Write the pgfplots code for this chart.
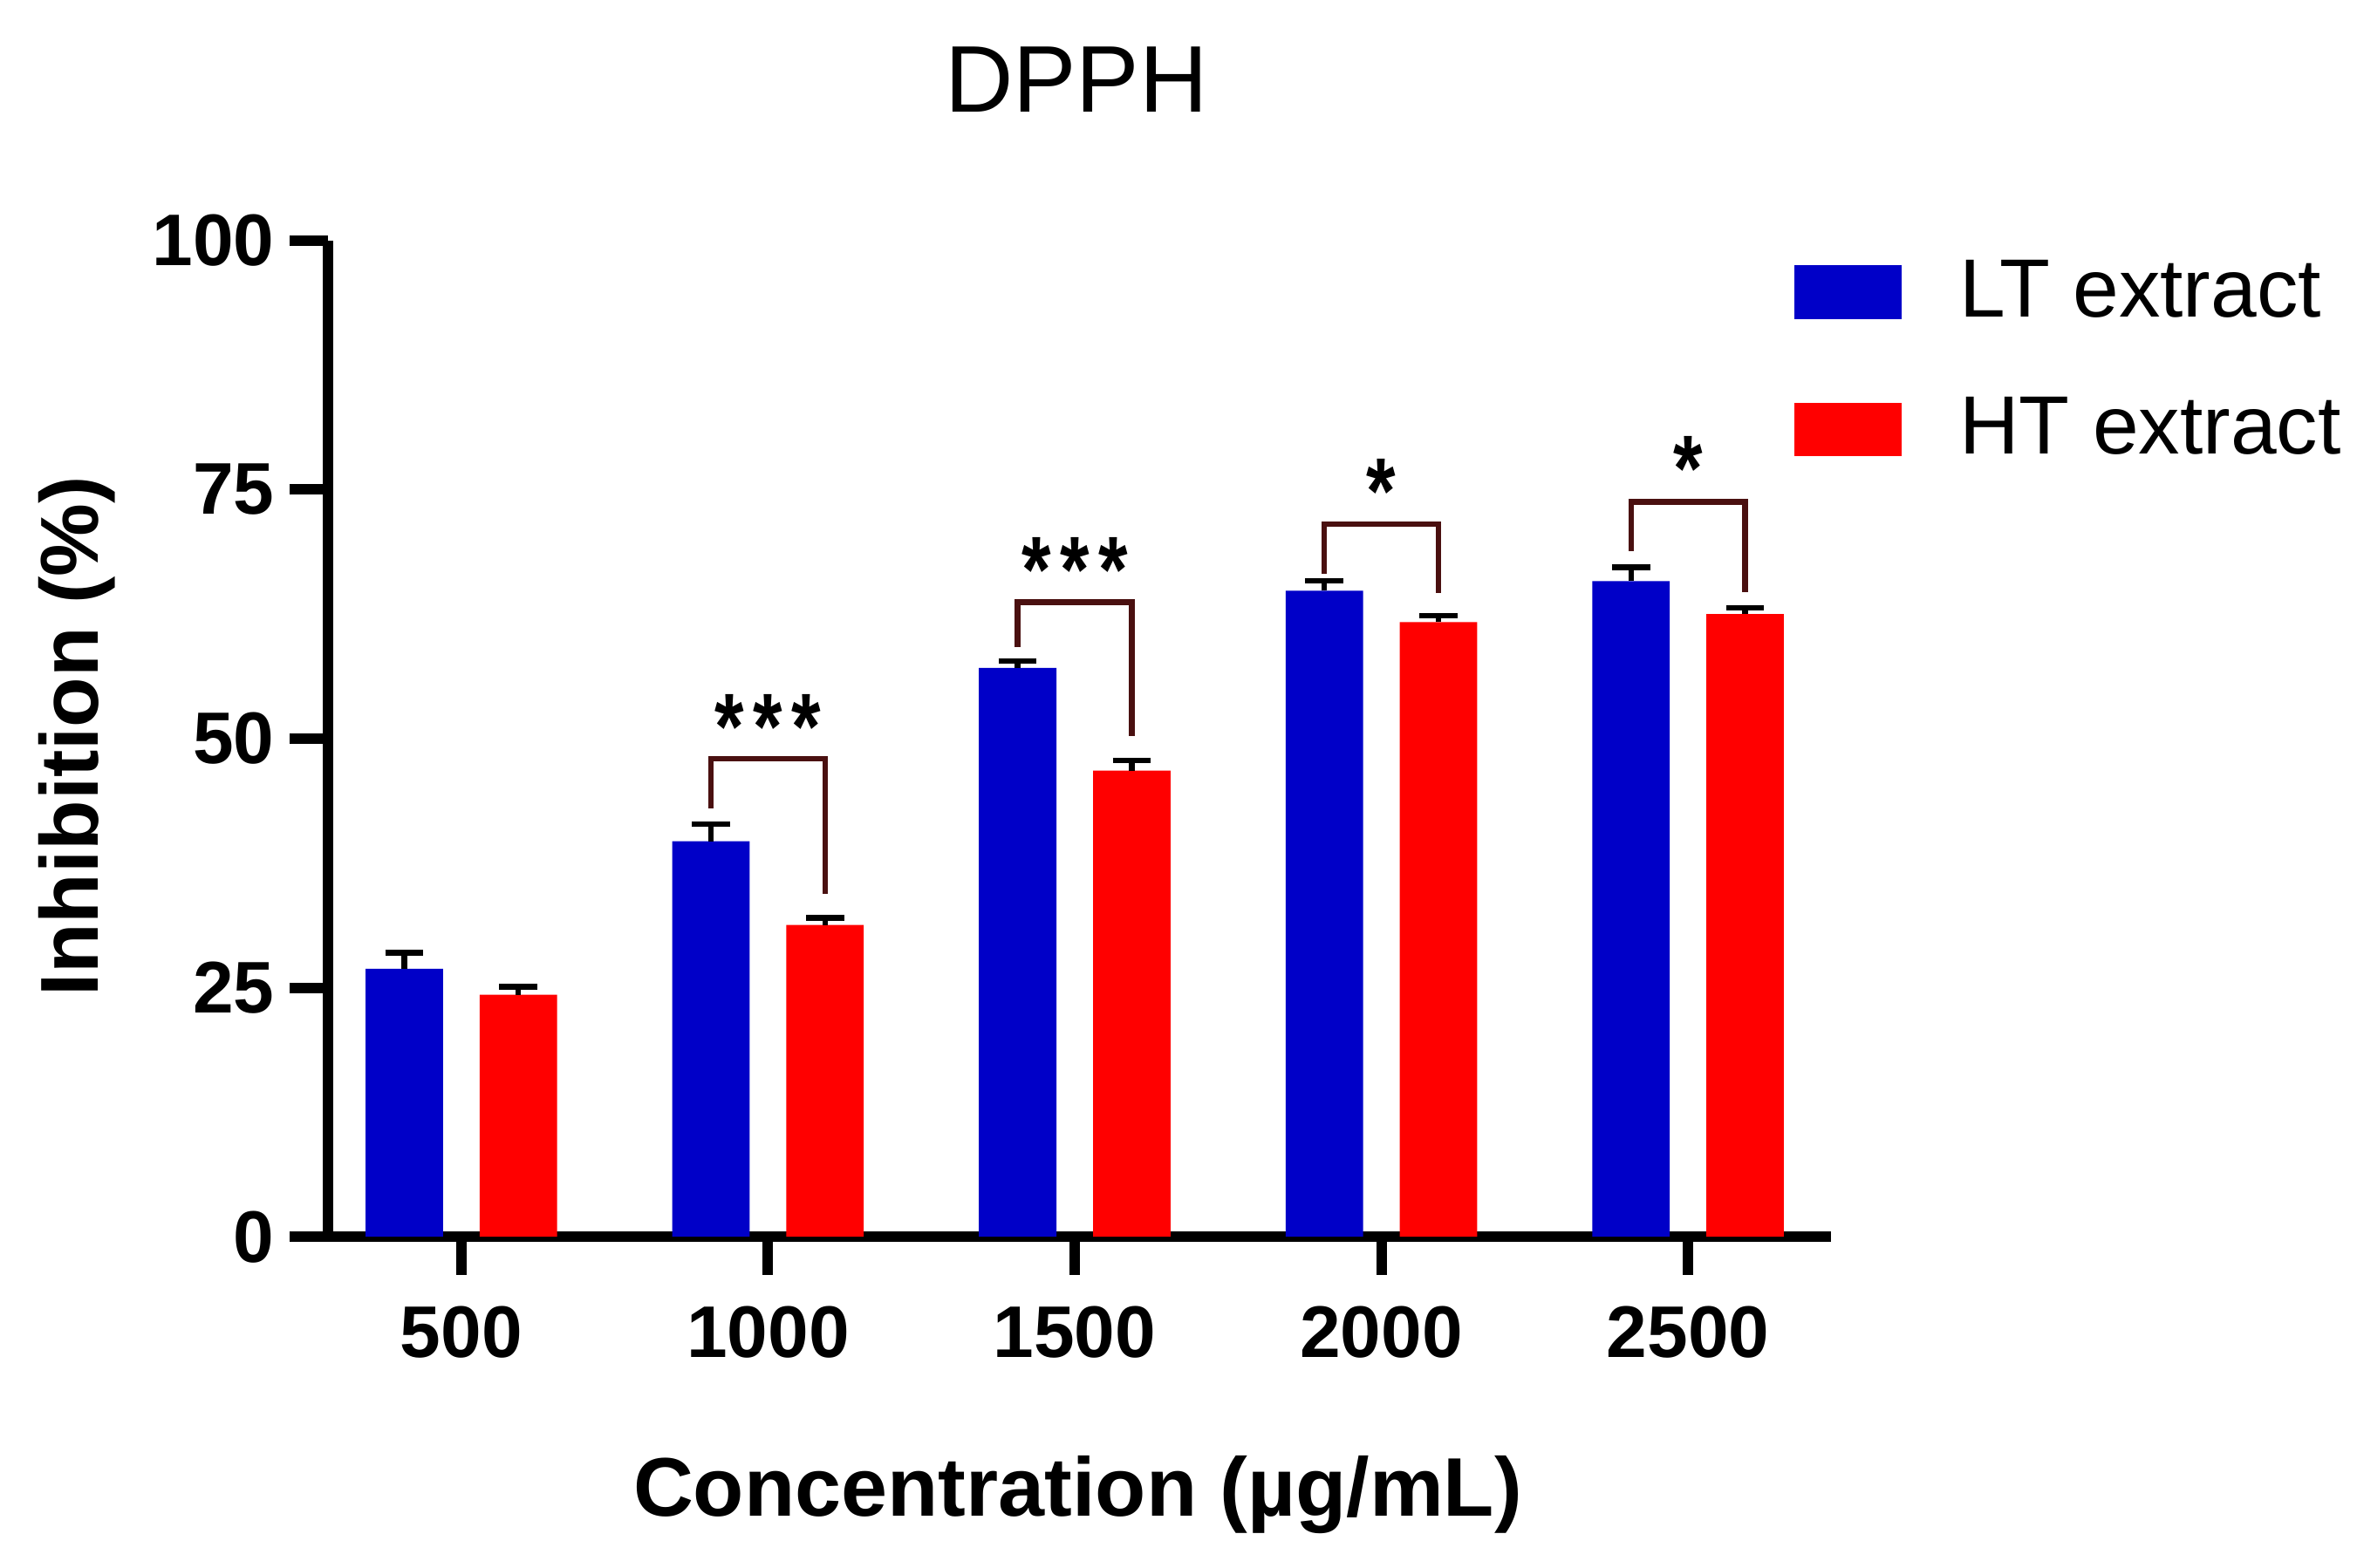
\documentclass[border=0pt]{standalone}
\usepackage{pgfplots}
\usepackage{pgfplotstable}
\usepackage{fontspec}
\setmainfont{Liberation Sans}
\pgfplotsset{compat=1.18}
\definecolor{ltblue}{RGB}{0,0,200}
\definecolor{htred}{RGB}{255,0,0}
\definecolor{sigbrown}{RGB}{74,16,16}

% x = category index (500 ... 2500), means and upper errors
\pgfplotstableread{
x lt lterr ht hterr
0 26.9 1.6 24.3 0.8
1 39.7 1.7 31.3 0.7
2 57.1 0.7 46.8 1.0
3 64.85 1.0 61.7 0.65
4 65.8 1.4 62.5 0.6
}\dpph

\newcommand{\stars}[1]{\scalebox{1}[1.25]{\fontsize{15}{15}\selectfont\bfseries #1}}

\begin{document}
\begin{tikzpicture}
\begin{axis}[
    at={(0,0)}, anchor=south west,
    scale only axis,
    width=300pt, height=198.9pt,
    xmin=-0.436, xmax=4.466,
    ymin=0, ymax=100,
    axis x line*=bottom, axis y line*=left,
    axis line style={-, line width=2.1pt},
    every tick/.style={black, line width=2.1pt},
    tick align=outside,
    major tick length=7.6pt,
    xtick={0,1,2,3,4},
    xticklabels={500,1000,1500,2000,2500},
    ytick={0,25,50,75,100},
    /pgf/number format/assume math mode=true,
    ticklabel style={font=\fontsize{14.6}{14.6}\selectfont\bfseries},
    xticklabel style={yshift=-2.8pt},
    yticklabel style={xshift=0.5pt},
    xlabel={Concentration (µg/mL)},
    ylabel={Inhibition (\%)},
    xlabel style={at={(axis description cs:0.499,-0.259)}, anchor=center,
        font=\fontsize{16.6}{16.6}\selectfont\bfseries},
    ylabel style={at={(axis description cs:-0.167,0.502)}, anchor=center, rotate=0,
        font=\fontsize{16.4}{16.4}\selectfont\bfseries},
    title={DPPH},
    title style={at={(axis description cs:0.498,1.099)}, anchor=base,
        font=\fontsize{18.9}{18.9}\selectfont},
    clip=false,
    legend style={at={(axis description cs:0.9753,0.9916)}, anchor=north west,
        draw=none, fill=none, inner sep=0pt, row sep=10.6pt,
        font=\fontsize{16.5}{16.5}\selectfont,
        /tikz/every odd column/.append style={column sep=9.6pt}},
    legend cell align=left,
]
\addplot[ybar, bar width=0.2525, bar shift=0pt, fill=ltblue, draw=none,
    legend image code/.code={\fill[ltblue] (0pt,-5.35pt) rectangle (21.3pt,5.35pt);},
    error bars/.cd, y dir=plus, y explicit,
    error bar style={line width=1.1pt, black},
    error mark options={rotate=90, mark size=3.8pt, line width=1.1pt, black}]
    table[x expr=\thisrow{x}-0.186, y=lt, y error=lterr] {\dpph};
\addlegendentry{LT extract}
\addplot[ybar, bar width=0.2525, bar shift=0pt, fill=htred, draw=none,
    legend image code/.code={\fill[htred] (0pt,-5.35pt) rectangle (21.3pt,5.35pt);},
    error bars/.cd, y dir=plus, y explicit,
    error bar style={line width=1.1pt, black},
    error mark options={rotate=90, mark size=3.8pt, line width=1.1pt, black}]
    table[x expr=\thisrow{x}+0.186, y=ht, y error=hterr] {\dpph};
\addlegendentry{HT extract}

% significance brackets
\addplot[sigbrown, line width=1.1pt, mark=none, forget plot]
    coordinates {(0.814,43.0) (0.814,48.0) (1.186,48.0) (1.186,34.4)};
\addplot[sigbrown, line width=1.1pt, mark=none, forget plot]
    coordinates {(1.814,59.2) (1.814,63.7) (2.186,63.7) (2.186,50.3)};
\addplot[sigbrown, line width=1.1pt, mark=none, forget plot]
    coordinates {(2.814,66.5) (2.814,71.5) (3.186,71.5) (3.186,64.6)};
\addplot[sigbrown, line width=1.1pt, mark=none, forget plot]
    coordinates {(3.814,68.8) (3.814,73.75) (4.186,73.75) (4.186,64.7)};

\node at (axis cs:1,51.2) {\stars{*\kern1.8pt*\kern1.8pt*}};
\node at (axis cs:2,66.9) {\stars{*\kern1.8pt*\kern1.8pt*}};
\node at (axis cs:3,74.8) {\stars{*}};
\node at (axis cs:4,77.1) {\stars{*}};
\end{axis}
\pgfresetboundingbox
\path[use as bounding box] (-65.4pt,-66pt) rectangle (405pt,246.9pt);
\end{tikzpicture}
\end{document}
